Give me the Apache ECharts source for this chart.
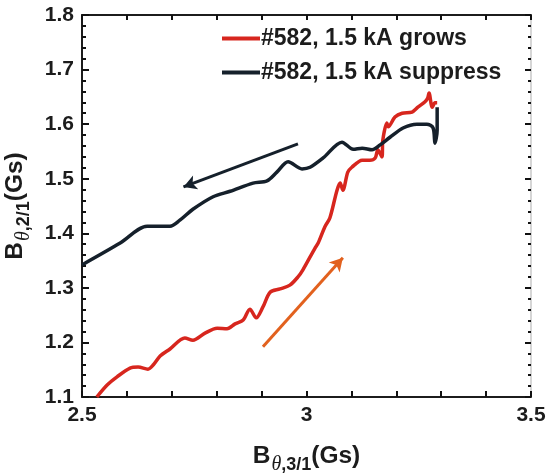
<!DOCTYPE html>
<html>
<head>
<meta charset="utf-8">
<script src="https://cdn.jsdelivr.net/npm/echarts@6/dist/echarts.min.js"></script>
<style>
html,body{margin:0;padding:0;background:#fff;}
#c{width:548px;height:476px;}
</style>
</head>
<body>
<div id="c"></div>
<script>
// Red curve: "#582, 1.5 kA grows"  [B_theta,3/1, B_theta,2/1]
var growsX = [2.533,2.556,2.578,2.607,2.625,2.647,2.659,2.674,2.696,2.729,2.747,2.774,2.801,2.823,2.841,2.859,2.874,2.888,2.903,2.919,2.941,2.963,2.981,2.992,3.019,3.026,3.041,3.052,3.068,3.075,3.081,3.092,3.101,3.124,3.141,3.153,3.159,3.168,3.170,3.179,3.182,3.197,3.213,3.235,3.248,3.264,3.270,3.273,3.280,3.286,3.291];
var growsY = [1.100,1.122,1.137,1.153,1.155,1.151,1.159,1.175,1.188,1.208,1.204,1.217,1.226,1.225,1.234,1.241,1.261,1.245,1.265,1.292,1.298,1.305,1.320,1.333,1.373,1.382,1.412,1.428,1.479,1.492,1.479,1.512,1.521,1.534,1.534,1.538,1.553,1.540,1.571,1.602,1.595,1.613,1.620,1.622,1.631,1.641,1.648,1.657,1.631,1.639,1.639];

// Black curve: "#582, 1.5 kA suppress"
var suppressX = [2.500,2.585,2.645,2.696,2.718,2.747,2.792,2.830,2.881,2.912,2.934,2.959,2.990,3.008,3.037,3.079,3.104,3.124,3.146,3.164,3.186,3.215,3.246,3.268,3.282,3.286,3.291,3.291];
var suppressY = [1.342,1.382,1.413,1.413,1.424,1.444,1.467,1.477,1.492,1.496,1.512,1.531,1.518,1.521,1.538,1.567,1.554,1.556,1.553,1.562,1.576,1.593,1.600,1.600,1.593,1.565,1.589,1.631];

// Arrows [start, end] in data units
var suppressArrow = [[2.981,1.564],[2.726,1.485]];
var growsArrow = [[2.903,1.192],[3.081,1.355]];

var seriesNames = ['#582, 1.5 kA grows', '#582, 1.5 kA suppress'];
var xTickLabels = ['2.5','3','3.5'];

function zip(a,b){var r=[];for(var i=0;i<a.length;i++)r.push([a[i],b[i]]);return r;}

var FONT = '"Liberation Sans", Arial, sans-serif';
var DARK = '#1c1c1c';
var RED = '#d7261e';
var NAVY = '#15202b';
var ORANGE = '#e2611e';
var X_MIN = 2.5, X_MAX = 3.5, Y_MIN = 1.1, Y_MAX = 1.8;

var chart = echarts.init(document.getElementById('c'), null, {renderer:'canvas'});

var nameRich = {
  b:{fontFamily:FONT, fontWeight:'bold', fontSize:24.5, color:DARK},
  t:{fontFamily:'"Liberation Serif", serif', fontStyle:'italic', fontSize:20, color:DARK, padding:[18,0,0,1]},
  s:{fontFamily:FONT, fontWeight:'bold', fontSize:18, color:DARK, padding:[18,0,0,0]}
};

var tickStyle = {color:'#111', width:2};

chart.setOption({
  animation:false,
  backgroundColor:'#fff',
  grid:{left:82, right:17, top:15, bottom:79, outerBoundsMode:'none', containLabel:false},
  legend:{
    orient:'vertical', left:217, top:22,
    itemWidth:38, itemHeight:4, icon:'rect', itemGap:11,
    textStyle:{fontFamily:FONT, fontWeight:'bold', fontSize:23, color:DARK, padding:[0,0,0,-4]},
    data:seriesNames
  },
  xAxis:[{
    type:'value', min:X_MIN, max:X_MAX, interval:0.1, position:'bottom',
    axisLine:{show:true, onZero:false, lineStyle:{color:DARK, width:2}},
    splitLine:{show:false},
    axisTick:{show:true, inside:true, length:6, lineStyle:tickStyle},
    axisLabel:{
      fontFamily:FONT, fontWeight:'bold', fontSize:21, color:DARK, margin:8,
      formatter:function(v){
        var k = Math.round(v*2);
        if (Math.abs(v*2-k) > 1e-6) return '';
        var s = String(parseFloat(v.toFixed(1)));
        return xTickLabels.indexOf(s) >= 0 ? s : '';
      }
    },
    name:'{b|B}{t|θ}{s|,3/1}{b|(Gs)}',
    nameLocation:'middle', nameGap:40,
    nameTextStyle:{rich:nameRich}
  },{
    type:'value', min:X_MIN, max:X_MAX, interval:0.1, position:'top',
    axisLine:{show:true, onZero:false, lineStyle:{color:DARK, width:2}},
    splitLine:{show:false},
    axisTick:{show:true, inside:true, length:5, lineStyle:tickStyle},
    axisLabel:{show:false}
  }],
  yAxis:[{
    type:'value', min:Y_MIN, max:Y_MAX, interval:0.1, position:'left',
    axisLine:{show:true, onZero:false, lineStyle:{color:DARK, width:2}},
    splitLine:{show:false},
    axisTick:{show:true, inside:true, length:7, lineStyle:tickStyle},
    minorTick:{show:true, splitNumber:5, length:4, lineStyle:tickStyle},
    axisLabel:{
      fontFamily:FONT, fontWeight:'bold', fontSize:21, color:DARK, margin:8,
      formatter:function(v){return v.toFixed(1);}
    },
    name:'{b|B}{t|θ}{s|,2/1}{b|(Gs)}',
    nameLocation:'middle', nameGap:31, nameRotate:90,
    nameTextStyle:{rich:nameRich}
  },{
    type:'value', min:Y_MIN, max:Y_MAX, interval:0.1, position:'right',
    axisLine:{show:true, onZero:false, lineStyle:{color:'#c8c8c8', width:1.5}},
    splitLine:{show:false},
    axisTick:{show:true, inside:true, length:6, lineStyle:tickStyle},
    minorTick:{show:true, splitNumber:5, length:3, lineStyle:tickStyle},
    axisLabel:{show:false}
  }],
  series:[{
    name:seriesNames[0], type:'line', xAxisIndex:0, yAxisIndex:0,
    data:zip(growsX, growsY), showSymbol:false, symbol:'none', smooth:0.3,
    lineStyle:{color:RED, width:3.5}, itemStyle:{color:RED}, z:3,
    markLine:{
      silent:true, symbol:['none','arrow'], symbolSize:[11,13],
      label:{show:false},
      lineStyle:{color:ORANGE, width:3, type:'solid'},
      data:[[{coord:growsArrow[0]},{coord:growsArrow[1]}]]
    }
  },{
    name:seriesNames[1], type:'line', xAxisIndex:0, yAxisIndex:0,
    data:zip(suppressX, suppressY), showSymbol:false, symbol:'none', smooth:0.3,
    lineStyle:{color:NAVY, width:3.5}, itemStyle:{color:NAVY}, z:4,
    markLine:{
      silent:true, symbol:['none','arrow'], symbolSize:[11,13],
      label:{show:false},
      lineStyle:{color:NAVY, width:3, type:'solid'},
      data:[[{coord:suppressArrow[0]},{coord:suppressArrow[1]}]]
    }
  }]
});
</script>
</body>
</html>
